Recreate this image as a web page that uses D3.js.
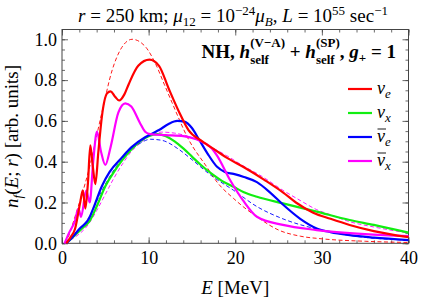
<!DOCTYPE html>
<html>
<head>
<meta charset="utf-8">
<script src="https://cdn.jsdelivr.net/npm/d3@7"></script>
<style>
  body { margin: 0; background: #fff; }
</style>
</head>
<body>
<div id="chart"></div>
<script>
// energies [MeV] and spectra n_f(E; r)
const nuE = [[0.5,0],[1,0.03],[1.5,0.07],[2.1,0.2],[2.4,0.26],[2.7,0.17],[3.0,0.3],[3.27,0.48],[3.55,0.38],[3.85,0.29],[4.2,0.45],[4.6,0.62],[5.2,0.735],[5.6,0.745],[6.1,0.72],[6.6,0.70],[7.2,0.73],[7.7,0.78],[8.8,0.87],[10.1,0.90],[11.2,0.87],[12.3,0.76],[13.5,0.645],[14.6,0.555],[16.2,0.5],[17.7,0.457],[19,0.42],[20.9,0.375],[23.4,0.31],[25.5,0.25],[27,0.2],[29,0.15],[31,0.12],[33.2,0.09],[36,0.06],[40,0.03]];
const nuX = [[0.5,0],[1.5,0.04],[2.5,0.08],[3.2,0.11],[4,0.18],[5,0.28],[6,0.35],[7,0.41],[8,0.46],[9,0.5],[10,0.525],[11,0.535],[12,0.525],[13,0.5],[14,0.465],[15,0.425],[16,0.385],[17.3,0.34],[18.5,0.305],[19.8,0.277],[21,0.25],[22.5,0.228],[25.5,0.196],[29.4,0.155],[33.2,0.114],[36,0.09],[40,0.052]];
const nuEbar = [[0.5,0],[1.2,0.03],[2,0.07],[3.1,0.12],[3.6,0.17],[4.6,0.28],[5.5,0.35],[6.9,0.42],[8,0.47],[9.6,0.52],[10.5,0.54],[11.2,0.555],[12.3,0.585],[13.3,0.6],[14.2,0.595],[15,0.565],[15.8,0.51],[16.8,0.44],[17.9,0.375],[18.8,0.35],[19.8,0.34],[21,0.325],[22.5,0.3],[24,0.25],[25.5,0.19],[27.5,0.12],[29.4,0.073],[31,0.055],[33.2,0.04],[36,0.028],[40,0.016]];
const nuXbar = [[0.3,0],[0.8,0.05],[1.5,0.11],[1.9,0.17],[2.2,0.13],[2.8,0.26],[3.2,0.2],[3.6,0.4],[4.04,0.547],[4.5,0.45],[5,0.384],[5.6,0.47],[6.5,0.64],[7.3,0.686],[8,0.67],[9,0.59],[9.6,0.547],[10.2,0.535],[12,0.53],[14,0.525],[15.5,0.51],[16.5,0.49],[17.3,0.465],[17.9,0.43],[19.4,0.31],[20.9,0.21],[22.5,0.13],[25.5,0.09],[29.4,0.065],[35,0.045],[40,0.035]];
// unperturbed spectra (dashed)
const nuE0 = [[0.5,0],[1.5,0.13],[3.1,0.36],[4.6,0.64],[5.8,0.85],[6.9,0.96],[8.1,1.0],[9.6,0.965],[10.8,0.88],[11.8,0.78],[12.7,0.69],[14.6,0.51],[16.7,0.375],[17.9,0.3],[19.8,0.22],[20.9,0.18],[22.5,0.13],[25,0.065],[27.5,0.035],[30,0.022],[35,0.01],[40,0.004]];
const nuEbar0 = [[0.5,0],[1.5,0.05],[3,0.12],[4.5,0.25],[6,0.36],[7.5,0.44],[9,0.49],[10.2,0.51],[11.5,0.505],[13.5,0.46],[15,0.41],[17.3,0.33],[19.8,0.26],[22.5,0.18],[25.5,0.12],[29.4,0.07],[33,0.04],[40,0.015]];
const nuX0 = [[0.3,0],[1.5,0.03],[3,0.09],[4,0.16],[5,0.24],[6,0.32],[7,0.39],[8,0.45],[9,0.49],[10,0.525],[11.5,0.545],[13,0.54],[14.5,0.525],[16,0.5],[17.5,0.465],[19,0.43],[20.9,0.38],[23,0.33],[25.5,0.26],[27.5,0.21],[29.4,0.165],[31,0.14],[33.2,0.106],[36,0.08],[40,0.05]];

const xTicks = [0, 10, 20, 30, 40];
const yTicks = [0, 0.2, 0.4, 0.6, 0.8, 1.0];
const legendNames = [["ν", "e", false], ["ν", "x", false], ["ν", "e", true], ["ν", "x", true]];
const colors = ["#ff0000", "#11ee11", "#0000ff", "#ff00ff"];

const W = 424, H = 300;
const margin = { top: 29.5, right: 15.5, bottom: 56.7, left: 62 };
const width = W - margin.left - margin.right;
const height = H - margin.top - margin.bottom;
const serif = "Liberation Serif";

const svg = d3.select("#chart").append("svg")
  .attr("width", W).attr("height", H)
  .attr("font-family", serif);

const g = svg.append("g").attr("transform", `translate(${margin.left},${margin.top})`);

const x = d3.scaleLinear().domain([0, 40]).range([0, width]);
const y = d3.scaleLinear().domain([0, 1.048]).range([height, 0]);

const frameColor = "#444";
// minor + major ticks on all four sides, pointing inward
function ticks(axisFn, scale, vals, size, fmt, tr) {
  const a = g.append("g").attr("transform", tr)
    .call(axisFn(scale).tickValues(vals).tickSize(-size).tickSizeOuter(0).tickPadding(4 + Math.max(size, 0))
      .tickFormat(fmt));
  a.attr("font-family", serif).attr("font-size", 18);
  a.select(".domain").remove();
  a.selectAll("line").attr("stroke", frameColor).attr("stroke-width", 0.8);
  a.selectAll("text").attr("font-family", serif).attr("font-size", 18).attr("fill", "#000");
  return a;
}
const xMinor = d3.range(0, 40.01, 2);
const yMinor = d3.range(0, 1.001, 0.05);
ticks(d3.axisBottom, x, xMinor, 3, "", `translate(0,${height})`);
ticks(d3.axisTop, x, xMinor, 3, "", "translate(0,0)");
ticks(d3.axisLeft, y, yMinor, 3, "", "translate(0,0)");
ticks(d3.axisRight, y, yMinor, 3, "", `translate(${width},0)`);
const xb = ticks(d3.axisBottom, x, xTicks, 6, d3.format("d"), `translate(0,${height})`);
xb.selectAll("text").attr("dy", "0.85em").attr("y", 5);
ticks(d3.axisTop, x, xTicks, 6, "", "translate(0,0)");
const yl = ticks(d3.axisLeft, y, yTicks, 6, d3.format(".1f"), "translate(0,0)");
yl.selectAll("text").attr("x", -5);
ticks(d3.axisRight, y, yTicks, 6, "", `translate(${width},0)`);

g.append("rect").attr("width", width).attr("height", height)
  .attr("fill", "none").attr("stroke", frameColor).attr("stroke-width", 1);

const line = d3.line().x(d => x(d[0])).y(d => y(d[1])).curve(d3.curveMonotoneX);
const plot = g.append("g");
[[nuX0, "#ff00ff"], [nuEbar0, "#0000ff"], [nuE0, "#ff0000"]].forEach(([d, c]) => {
  plot.append("path").datum(d).attr("d", line)
    .attr("fill", "none").attr("stroke", c).attr("stroke-width", 0.9).attr("stroke-dasharray", "4,2.5");
});
[[nuX, 1], [nuEbar, 2], [nuXbar, 3], [nuE, 0]].forEach(([d, i]) => {
  plot.append("path").datum(d).attr("d", line)
    .attr("fill", "none").attr("stroke", colors[i]).attr("stroke-width", 2.2)
    .attr("stroke-linejoin", "round");
});

// rich text from pieces laid out left to right
function piece(parent, cx, y0, q, base) {
  return parent.append("text").attr("x", cx).attr("y", y0 + (q.dy || 0))
    .attr("xml:space", "preserve")
    .attr("font-family", serif)
    .attr("font-size", q.size || base)
    .attr("font-style", q.i ? "italic" : "normal")
    .attr("font-weight", q.b ? "bold" : "normal")
    .attr("fill", "#000").text(q.t);
}
function rich(parent, x0, y0, parts, base) {
  let cx = x0;
  parts.forEach(p => {
    if (p.stack) {
      let w = 0;
      p.stack.forEach(q => {
        w = Math.max(w, piece(parent, cx, y0, q, base).node().getComputedTextLength());
      });
      cx += w;
      return;
    }
    cx += piece(parent, cx, y0, p, base).node().getComputedTextLength();
  });
  return cx - x0;
}

// title
const title = svg.append("g");
const tw = rich(title, 0, 22, [
  { t: "r", i: true }, { t: " = 250 km; " }, { t: "μ", i: true }, { t: "12", size: 13, dy: 4 },
  { t: " = 10" }, { t: "−24", size: 13, dy: -7 }, { t: "μ", i: true }, { t: "B", i: true, size: 13, dy: 4 },
  { t: ", " }, { t: "L", i: true }, { t: " = 10" }, { t: "55", size: 13, dy: -7 }, { t: " sec" },
  { t: "−1", size: 13, dy: -7 }
], 19);
title.attr("transform", `translate(${(53 + 413) / 2 - tw / 2},0)`);

// inset label
const inset = svg.append("g");
const iw = rich(inset, 0, 58, [
  { t: "NH, ", b: true }, { t: "h", b: true, i: true },
  { stack: [{ t: "(V−A)", b: true, size: 13, dy: -11 }, { t: "self", b: true, size: 13, dy: 6 }] },
  { t: " + ", b: true }, { t: "h", b: true, i: true },
  { stack: [{ t: "(SP)", b: true, size: 13, dy: -11 }, { t: "self", b: true, size: 13, dy: 6 }] },
  { t: ", ", b: true }, { t: "g", b: true, i: true }, { t: "+", b: true, size: 13, dy: 4 },
  { t: " = 1", b: true }
], 19);
inset.attr("transform", `translate(${396 - iw},0)`);

// legend
const legend = svg.append("g");
legendNames.forEach((n, i) => {
  const ly = 89 + i * 24;
  legend.append("line").attr("x1", 348).attr("x2", 372).attr("y1", ly).attr("y2", ly)
    .attr("stroke", colors[i]).attr("stroke-width", 2.2);
  const t = legend.append("text").attr("x", 377).attr("y", ly + 5)
    .attr("font-family", serif).attr("font-size", 18).attr("font-style", "italic");
  t.append("tspan").text(n[0]);
  t.append("tspan").attr("font-size", 13).attr("dy", 4).text(n[1]);
  if (n[2]) {
    legend.append("line").attr("x1", 377.5).attr("x2", 386).attr("y1", ly - 8).attr("y2", ly - 8)
      .attr("stroke", "#000").attr("stroke-width", 0.9);
  }
});

// axis labels
const xlab = svg.append("g");
const xw = rich(xlab, 0, 294, [{ t: "E", i: true }, { t: " [MeV]" }], 19);
xlab.attr("transform", `translate(${margin.left + width / 2 - xw / 2},0)`);

const ylab = svg.append("g");
const yw = rich(ylab, 0, 0, [
  { t: "n", i: true }, { t: "f", i: true, size: 13, dy: 4 }, { t: "(" }, { t: "E", i: true }, { t: "; " },
  { t: "r", i: true }, { t: ") [arb. units]" }
], 19);
ylab.attr("transform", `translate(18,${margin.top + height / 2 + yw / 2}) rotate(-90)`);
</script>
</body>
</html>
